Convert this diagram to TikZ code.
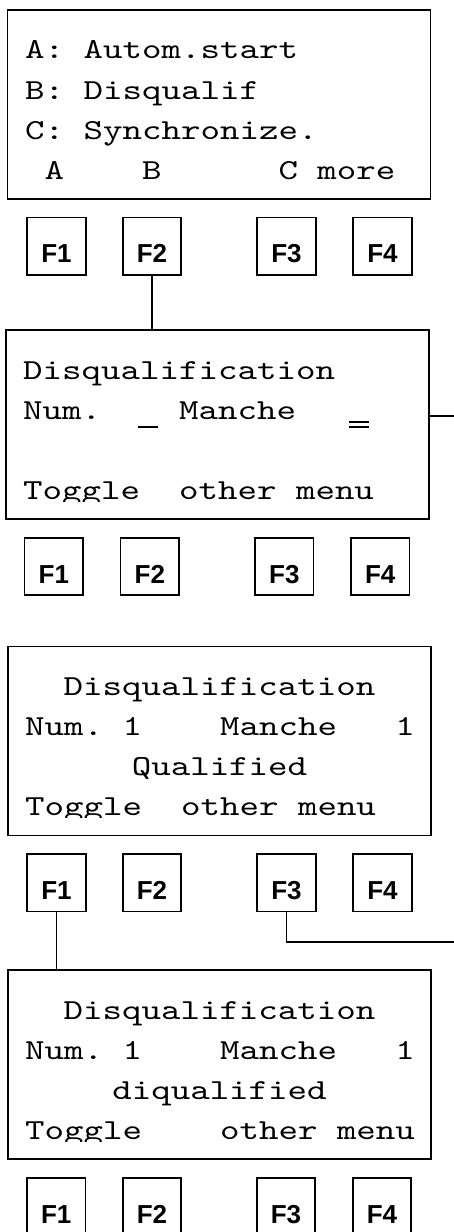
\documentclass[tikz,border=0pt]{standalone}
\usepackage{fontspec}
\newfontfamily\lcdfont{lmmono10-regular}[Extension=.otf, FakeStretch=1.28]
\newfontfamily\keyfont{Liberation Sans}
\usetikzlibrary{positioning}

\begin{document}
\begin{tikzpicture}[x=1pt, y=1pt,
    ecran/.style={draw, line width=1.8pt, minimum width=423pt, minimum height=189pt, inner sep=0pt},
    touche/.style={draw, line width=1.6pt, minimum width=58.5pt, minimum height=57.5pt, inner sep=0pt,
        font=\keyfont\bfseries\fontsize{26pt}{26pt}\selectfont, text height=33pt, text depth=0pt},
    ligne/.style={inner sep=0pt, font=\lcdfont\fontsize{29pt}{29pt}\selectfont},
    fil/.style={line width=1.5pt},
    curseur/.style={line width=2pt}]
    \useasboundingbox (0,0) rectangle (454,-1232);

    % Ecrans
    \node[ecran] (scr1) at (219,-104.7) {};
    \node[ecran] (scr2) at (217.3,-424.6) {};
    \node[ecran] (scr3) at (219.3,-741) {};
    \node[ecran] (scr4) at (219.2,-1064.7) {};

    % Menu principal
    \node[ligne, anchor=base west] (m1) at (25,-58) {A:~Autom.start};
    \node[ligne, anchor=base west] (m2) at (25,-99) {B:~Disqualif};
    \node[ligne, anchor=base west] (m3) at (25,-139) {C:~Synchronize.};
    \node[ligne, anchor=base west] (m4) at (25,-179) {~A~~~~B~~~~~~C~more};

    % Saisie
    \node[ligne, anchor=base west] (d1) at (23,-379) {Disqualification};
    \node[ligne, anchor=base west] (d2) at (23,-419) {Num.~~~~Manche};
    \draw[curseur] (138,-427) -- (158,-427);
    \draw[curseur] (349,-422) -- (369,-422);
    \draw[curseur] (349,-427) -- (369,-427);
    \begin{scope}
        \clip (0,-501.7) rectangle (454,-470);
        \node[ligne, anchor=base west] (d4) at (23,-499) {Toggle~~other~menu};
    \end{scope}

    % Qualifie
    \node[ligne, anchor=base] (q1) at (219.5,-695) {Disqualification};
    \node[ligne, anchor=base west] (q2) at (25,-735) {Num.~1~~~~Manche~~~1};
    \node[ligne, anchor=base] (q3) at (219.5,-775) {Qualified};
    \begin{scope}
        \clip (0,-817.7) rectangle (454,-786);
        \node[ligne, anchor=base west] (q4) at (25,-815) {Toggle~~other~menu};
    \end{scope}

    % Disqualifie
    \node[ligne, anchor=base] (x1) at (219.5,-1019) {Disqualification};
    \node[ligne, anchor=base west] (x2) at (25,-1059) {Num.~1~~~~Manche~~~1};
    \node[ligne, anchor=base] (x3) at (219.5,-1099) {diqualified};
    \begin{scope}
        \clip (0,-1141.7) rectangle (454,-1110);
        \node[ligne, anchor=base west] (x4) at (25,-1139) {Toggle~~~~other~menu};
    \end{scope}

    % Touches
    \node[touche] (k1f1) at (56.5,-246.2) {F1};
    \node[touche] (k1f2) at (152,-246.2) {F2};
    \node[touche] (k1f3) at (286.5,-246.2) {F3};
    \node[touche] (k1f4) at (382.5,-246.2) {F4};

    \node[touche] (k2f1) at (53.8,-566.5) {F1};
    \node[touche] (k2f2) at (149.8,-566.5) {F2};
    \node[touche] (k2f3) at (284.3,-566.5) {F3};
    \node[touche] (k2f4) at (380.2,-566.5) {F4};

    \node[touche] (k3f1) at (56.5,-882.7) {F1};
    \node[touche] (k3f2) at (152,-882.7) {F2};
    \node[touche] (k3f3) at (286.5,-882.7) {F3};
    \node[touche] (k3f4) at (382.5,-882.7) {F4};

    \node[touche] (k4f1) at (56.2,-1207) {F1};
    \node[touche] (k4f2) at (152,-1207) {F2};
    \node[touche] (k4f3) at (286,-1207) {F3};
    \node[touche] (k4f4) at (382,-1207) {F4};

    % Liaisons
    \coordinate (out2) at (454,-416);
    \coordinate (out3) at (454,-942);
    \draw[fil] (k1f2.south) -- (k1f2.south |- scr2.north);
    \draw[fil] (scr2.east |- out2) -- (out2);
    \draw[fil] (k3f1.south) -- (k3f1.south |- scr4.north);
    \draw[fil] (k3f3.south) |- (out3);
\end{tikzpicture}
\end{document}
